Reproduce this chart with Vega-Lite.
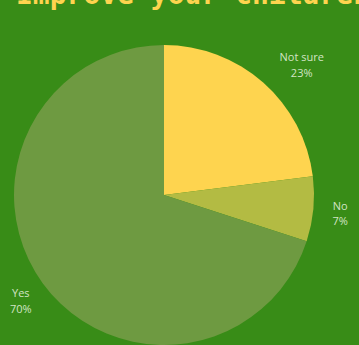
{
  "$schema": "https://vega.github.io/schema/vega-lite/v6.json",
  "width": 328,
  "height": 300,
  "autosize": {"type": "none"},
  "padding": {"left": 0, "top": 45, "right": 31, "bottom": 0},
  "background": "#388C17",
  "title": {
    "text": "Improve your children's",
    "anchor": "start",
    "frame": "group",
    "baseline": "alphabetic",
    "offset": 13,
    "dx": 16,
    "font": "DejaVu Sans Mono",
    "fontWeight": "bold",
    "fontSize": 28,
    "color": "#FED44F"
  },
  "config": {"view": {"stroke": null}},
  "data": {
    "values": [
      {"answer": "Not sure", "pct": 23, "order": 1, "label": "Not sure\n23%"},
      {"answer": "No", "pct": 7, "order": 2, "label": "No\n7%"},
      {"answer": "Yes", "pct": 70, "order": 3, "label": "Yes\n70%"}
    ]
  },
  "encoding": {
    "theta": {"field": "pct", "type": "quantitative", "stack": true},
    "order": {"field": "order", "type": "quantitative"}
  },
  "layer": [
    {
      "mark": {"type": "arc", "outerRadius": 150, "strokeWidth": 0},
      "encoding": {
        "color": {
          "field": "answer",
          "type": "nominal",
          "scale": {"domain": ["Not sure", "No", "Yes"], "range": ["#FED44F", "#B3BB43", "#6E9A41"]},
          "legend": null
        }
      }
    },
    {
      "mark": {"type": "text", "radius": 177, "dy": -5, "font": "Open Sans", "fontSize": 11, "color": "#D2E4C4", "lineBreak": "\n", "baseline": "middle", "lineHeight": 15.5},
      "encoding": {"text": {"condition": {"test": "datum.answer === 'Not sure'", "value": ""}, "field": "label", "type": "nominal"}}
    },
    {
      "mark": {"type": "text", "radius": 178, "dx": 20, "dy": -3, "font": "Open Sans", "fontSize": 11, "color": "#D2E4C4", "lineBreak": "\n", "baseline": "middle", "lineHeight": 15.5},
      "encoding": {"text": {"condition": {"test": "datum.answer !== 'Not sure'", "value": ""}, "field": "label", "type": "nominal"}}
    }
  ]
}
